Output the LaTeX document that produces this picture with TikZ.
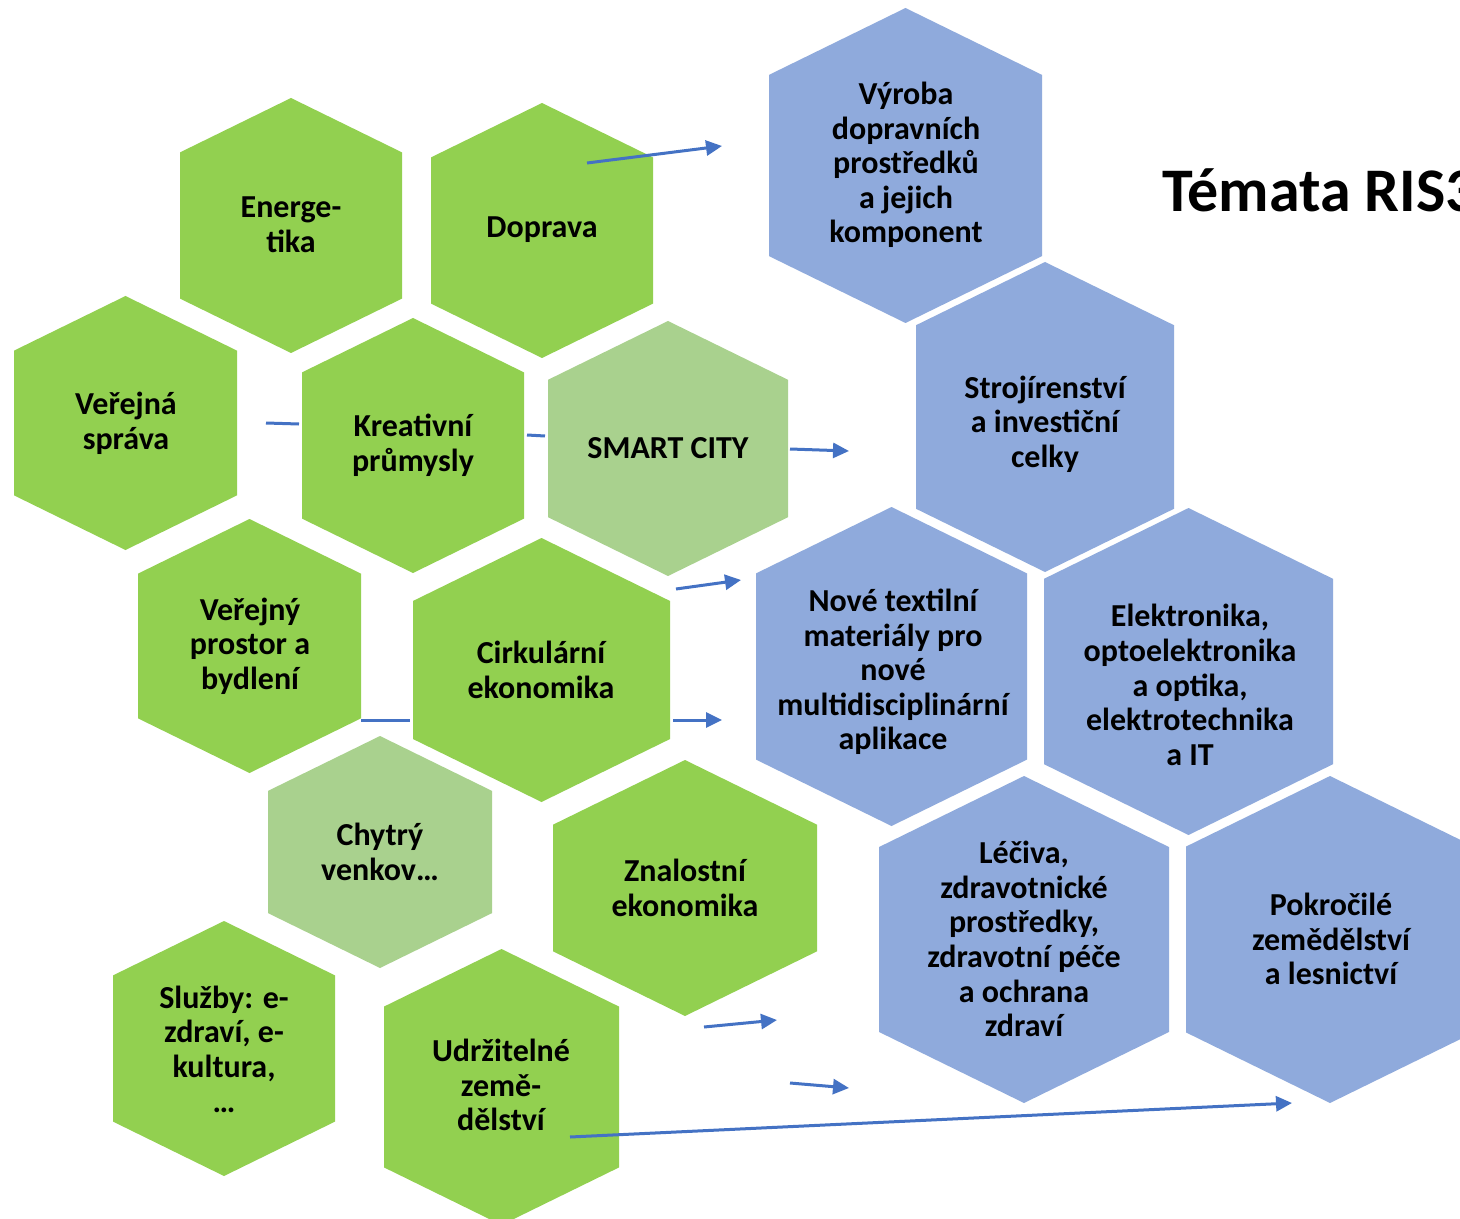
\documentclass[tikz,border=0pt]{standalone}
\usepackage{fontspec}
\setmainfont{Carlito}
\usetikzlibrary{arrows.meta}
\definecolor{hgreen}{HTML}{92D050}
\definecolor{hlight}{HTML}{A9D18E}
\definecolor{hblue}{HTML}{8FAADC}
\definecolor{arrowblue}{HTML}{4472C4}
\tikzset{
  hextext/.style={align=center, inner sep=0pt, font=\fontsize{16}{17.3}\selectfont\bfseries, text=black},
  conn/.style={draw=arrowblue, line width=1.5pt},
  arr/.style={conn, -{Triangle[length=8pt,width=7.5pt]}},
}
% #1 left, #2 right, #3 top, #4 bottom, #5 colour
\newcommand\hexshape[5]{%
  \fill[#5] ({(#1+#2)/2},#3) -- (#2,{#3+0.49*(#2-#1)/2}) -- (#2,{#4-0.49*(#2-#1)/2})
    -- ({(#1+#2)/2},#4) -- (#1,{#4-0.49*(#2-#1)/2}) -- (#1,{#3+0.49*(#2-#1)/2}) -- cycle;}
\begin{document}
\begin{tikzpicture}[x=0.5pt,y=-0.5pt]
\useasboundingbox (0,0) rectangle (1460,1219);
\clip (0,0) rectangle (1460,1219);
\fill[white] (0,0) rectangle (1460,1219);
% green hexagons
\hexshape{180}{402}{98}{353}{hgreen}
\node[hextext] (energetika) at (291,225) {Energe-\\tika};
\hexshape{431}{653}{103}{358}{hgreen}
\node[hextext] (doprava) at (542,230) {Doprava};
\hexshape{14}{237}{296}{550}{hgreen}
\node[hextext] (sprava) at (126,423) {Veřejná\\správa};
\hexshape{302}{524}{318}{573}{hgreen}
\node[hextext] (kreativni) at (413,445) {Kreativní\\průmysly};
\hexshape{548}{788}{321}{576}{hlight}
\node[hextext] (smartcity) at (668,448) {SMART CITY};
\hexshape{138}{361}{519}{773}{hgreen}
\node[hextext] (prostor) at (250,646) {Veřejný\\prostor a\\bydlení};
\hexshape{413}{670}{538}{802}{hgreen}
\node[hextext] (cirkularni) at (541,670) {Cirkulární\\ekonomika};
\hexshape{268}{492}{736}{968}{hlight}
\node[hextext] (venkov) at (380,852) {Chytrý\\venkov…};
\hexshape{553}{817}{760}{1016}{hgreen}
\node[hextext] (znalostni) at (685,888) {Znalostní\\ekonomika};
\hexshape{113}{335}{921}{1176}{hgreen}
\node[hextext] (sluzby) at (224,1049) {Služby: e-\\zdraví, e-\\kultura,\\…};
\hexshape{384}{619}{949}{1225}{hgreen}
\node[hextext] (zemedelstvi) at (501,1085) {Udržitelné\\země-\\dělství};
% blue hexagons
\hexshape{769}{1042}{8}{323}{hblue}
\node[hextext] (vyroba) at (906,165) {Výroba\\dopravních\\prostředků\\a jejich\\komponent};
\hexshape{916}{1174}{262}{572}{hblue}
\node[hextext] (strojirenstvi) at (1045,424) {Strojírenství\\a investiční\\celky};
\hexshape{756}{1027}{507}{826}{hblue}
\node[hextext] (textil) at (893,672) {Nové textilní\\materiály pro\\nové\\multidisciplinární\\aplikace};
\hexshape{1044}{1333}{508}{835}{hblue}
\node[hextext] (elektronika) at (1190,685) {Elektronika,\\optoelektronika\\a optika,\\elektrotechnika\\a IT};
\hexshape{879}{1169}{776}{1103}{hblue}
\node[hextext] (leciva) at (1024,939) {Léčiva,\\zdravotnické\\prostředky,\\zdravotní péče\\a ochrana\\zdraví};
\hexshape{1186}{1474}{776}{1103}{hblue}
\node[hextext] (pokrocile) at (1331,939) {Pokročilé\\zemědělství\\a lesnictví};
% title
\node[anchor=base west, inner sep=0pt, font=\fontsize{31}{36}\selectfont\bfseries] (title) at (1162,212) {Témata RIS3};
% connector end points
\coordinate (a1s) at (587,163); \coordinate (a1e) at (722,146);
\coordinate (l1s) at (266,423); \coordinate (l1e) at (299,424);
\coordinate (l2s) at (527,435); \coordinate (l2e) at (545,436);
\coordinate (a2s) at (790,449); \coordinate (a2e) at (849,451);
\coordinate (a3s) at (676,589); \coordinate (a3e) at (741,580);
\coordinate (a4s) at (673,720); \coordinate (a4e) at (722,720);
\coordinate (l3s) at (361,720); \coordinate (l3e) at (410,720);
\coordinate (a5s) at (704,1027); \coordinate (a5e) at (777,1020);
\coordinate (a6s) at (790,1083); \coordinate (a6e) at (849,1088);
\coordinate (a7s) at (570,1137); \coordinate (a7e) at (1292,1103);
% connectors
\draw[arr] (a1s) -- (a1e);
\draw[conn] (l1s) -- (l1e);
\draw[conn] (l2s) -- (l2e);
\draw[arr] (a2s) -- (a2e);
\draw[arr] (a3s) -- (a3e);
\draw[arr] (a4s) -- (a4e);
\draw[conn] (l3s) -- (l3e);
\draw[arr] (a5s) -- (a5e);
\draw[arr] (a6s) -- (a6e);
\draw[arr] (a7s) -- (a7e);
\end{tikzpicture}
\end{document}
